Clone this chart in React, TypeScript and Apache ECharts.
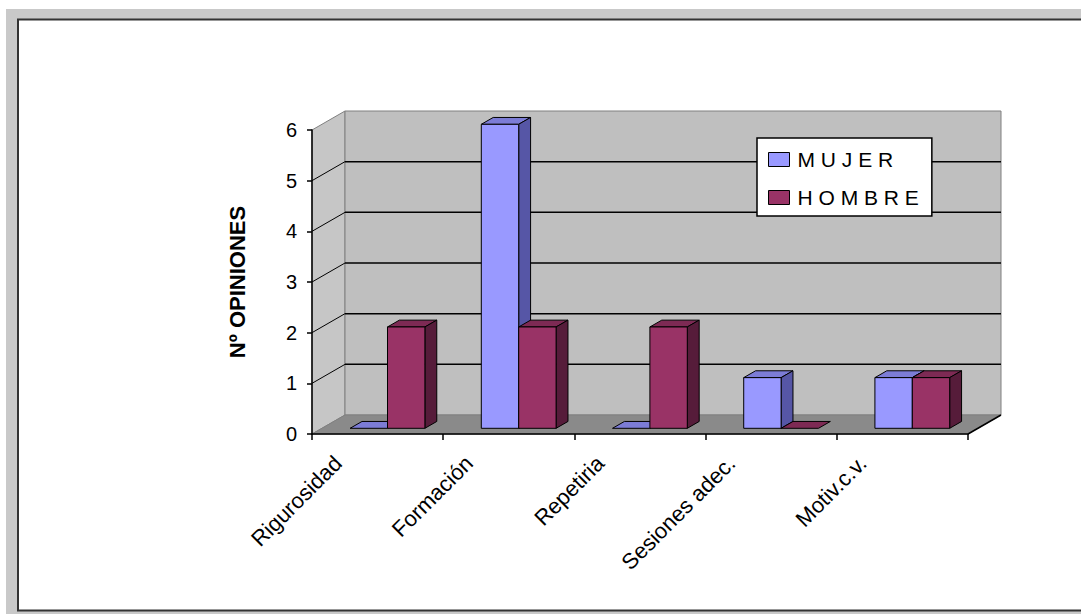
import React, { useEffect, useRef } from "react";
import * as echarts from "echarts";

const categories = ["Rigurosidad", "Formación", "Repetiria", "Sesiones adec.", "Motiv.c.v."];
const mujer = [0, 6, 0, 1, 1];
const hombre = [2, 2, 2, 0, 1];
const seriesNames = ["MUJER", "HOMBRE"];
const yTicks = [0, 1, 2, 3, 4, 5, 6];
const yAxisTitle = "Nº OPINIONES";

const FONT = "'Liberation Sans', Arial, sans-serif";
const DX = 33;
const DY = -19;
const FRONT = 0.3;
const BAR_DEPTH = 0.36;
const BAR_W = 0.285;

const colors = [
  { front: "#9999ff", top: "#7c7cd6", side: "#5656a6" },
  { front: "#993366", top: "#7d2a54", side: "#561c3a" },
];

function barRender(k: number) {
  const c = colors[k];
  return (params: any, api: any) => {
    const i = api.value(0);
    const v = api.value(1);
    const base = api.coord([i, 0]);
    const tp = api.coord([i, v]);
    const cw = api.size([1, 0])[0];
    const gc = base[0] + FRONT * DX;
    const w = BAR_W * cw;
    const x0 = k === 0 ? gc - w : gc;
    const x1 = x0 + w;
    const yb = base[1] + FRONT * DY;
    const yt = tp[1] + FRONT * DY;
    const bx = BAR_DEPTH * DX;
    const by = BAR_DEPTH * DY;
    const ln = { stroke: "#000", lineWidth: 1 };
    const children: any[] = [
      {
        type: "polygon",
        shape: { points: [[x0, yt], [x1, yt], [x1 + bx, yt + by], [x0 + bx, yt + by]] },
        style: { fill: c.top, ...ln },
      },
    ];
    if (v > 0) {
      children.push({
        type: "polygon",
        shape: { points: [[x1, yt], [x1 + bx, yt + by], [x1 + bx, yb + by], [x1, yb]] },
        style: { fill: c.side, ...ln },
      });
      children.push({
        type: "rect",
        shape: { x: x0, y: yt, width: w, height: yb - yt },
        style: { fill: c.front, ...ln },
      });
    }
    return { type: "group", children };
  };
}

function wallRender(params: any, api: any) {
  const cs = params.coordSys;
  const x0 = cs.x;
  const x1 = cs.x + cs.width;
  const yT = cs.y;
  const yB = cs.y + cs.height;
  const edge = { stroke: "#808080", lineWidth: 1 };
  const children: any[] = [
    {
      type: "polygon",
      shape: { points: [[x0, yB], [x0, yT], [x0 + DX, yT + DY], [x0 + DX, yB + DY]] },
      style: { fill: "#c6c6c6", ...edge },
    },
    {
      type: "rect",
      shape: { x: x0 + DX, y: yT + DY, width: cs.width, height: cs.height },
      style: { fill: "#bfbfbf", ...edge },
    },
    {
      type: "polygon",
      shape: { points: [[x0, yB], [x1, yB], [x1 + DX, yB + DY], [x0 + DX, yB + DY]] },
      style: { fill: "#8a8a8a", ...edge },
    },
  ];
  const maxV = yTicks[yTicks.length - 1];
  yTicks.forEach((t) => {
    if (t === 0 || t === maxV) return;
    const y = api.coord([0, t])[1];
    children.push({
      type: "line",
      shape: { x1: x0 + DX, y1: y + DY, x2: x1 + DX, y2: y + DY },
      style: { stroke: "#000", lineWidth: 1.5 },
    });
    children.push({
      type: "line",
      shape: { x1: x0, y1: y, x2: x0 + DX, y2: y + DY },
      style: { stroke: "#000", lineWidth: 1 },
    });
  });
  children.push({
    type: "line",
    shape: { x1: x1, y1: yB, x2: x1 + DX, y2: yB + DY },
    style: { stroke: "#000", lineWidth: 1.5 },
  });
  return { type: "group", children };
}

export default function App() {
  const ref = useRef<HTMLDivElement>(null);
  useEffect(() => {
    if (!ref.current) return;
    const chart = echarts.init(ref.current, null, { renderer: "svg" });
    chart.setOption({
      animation: false,
      backgroundColor: "#ffffff",
      graphic: [
        {
          type: "rect",
          z: -10,
          silent: true,
          shape: { x: 6, y: 9, width: 1100, height: 620 },
          style: { fill: "#c9c9c9" },
        },
        {
          type: "rect",
          z: -9,
          silent: true,
          shape: { x: 18, y: 19.5, width: 1100, height: 591 },
          style: { fill: "#ffffff", stroke: "#333", lineWidth: 2 },
        },
      ],
      legend: {
        data: seriesNames.map((n) => ({ name: n, icon: "rect" })),
        orient: "vertical",
        left: 757,
        top: 138,
        backgroundColor: "#ffffff",
        borderColor: "#000",
        borderWidth: 1.5,
        borderRadius: 0,
        padding: [11, 13, 8, 11],
        itemWidth: 21,
        itemHeight: 14,
        itemGap: 17,
        selectedMode: false,
        itemStyle: { borderColor: "#000", borderWidth: 1 },
        textStyle: { fontFamily: FONT, fontSize: 21, color: "#000", padding: [0, 0, 0, 3] },
        formatter: (n: string) => n.split("").join(" "),
      },
      grid: { left: 312, top: 130, width: 656, height: 304 },
      xAxis: {
        type: "category",
        data: categories,
        z: 10,
        boundaryGap: true,
        axisLine: { lineStyle: { color: "#000", width: 1.5 } },
        axisTick: { show: true, length: 6, lineStyle: { color: "#000", width: 1.5 } },
        axisLabel: {
          interval: 0,
          rotate: 45,
          margin: -14,
          padding: [0, 56, 0, 0],
          fontFamily: FONT,
          fontSize: 22,
          color: "#000",
        },
        splitLine: { show: false },
      },
      yAxis: {
        type: "value",
        min: 0,
        max: 6,
        interval: 1,
        z: 10,
        name: yAxisTitle,
        nameLocation: "middle",
        nameGap: 64,
        nameRotate: 90,
        nameTextStyle: { fontFamily: FONT, fontSize: 22, fontWeight: "bold", color: "#000" },
        axisLine: { show: true, lineStyle: { color: "#000", width: 1.5 } },
        axisTick: { show: true, length: 5, lineStyle: { color: "#000", width: 1.5 } },
        axisLabel: { margin: 15, fontFamily: FONT, fontSize: 20, color: "#000" },
        splitLine: { show: false },
      },
      series: [
        {
          type: "custom",
          name: "plano",
          silent: true,
          z: 1,
          renderItem: wallRender,
          data: [[0, 0]],
          encode: { x: 0, y: 1 },
        },
        {
          type: "custom",
          name: seriesNames[0],
          z: 2,
          itemStyle: { color: colors[0].front },
          renderItem: barRender(0),
          data: mujer.map((v, i) => [i, v]),
          encode: { x: 0, y: 1 },
        },
        {
          type: "custom",
          name: seriesNames[1],
          z: 2,
          itemStyle: { color: colors[1].front },
          renderItem: barRender(1),
          data: hombre.map((v, i) => [i, v]),
          encode: { x: 0, y: 1 },
        },
      ],
    });
    return () => chart.dispose();
  }, []);
  return (
    <div
      ref={ref}
      style={{ position: "absolute", left: 0, top: 0, width: 1081, height: 614 }}
    />
  );
}
